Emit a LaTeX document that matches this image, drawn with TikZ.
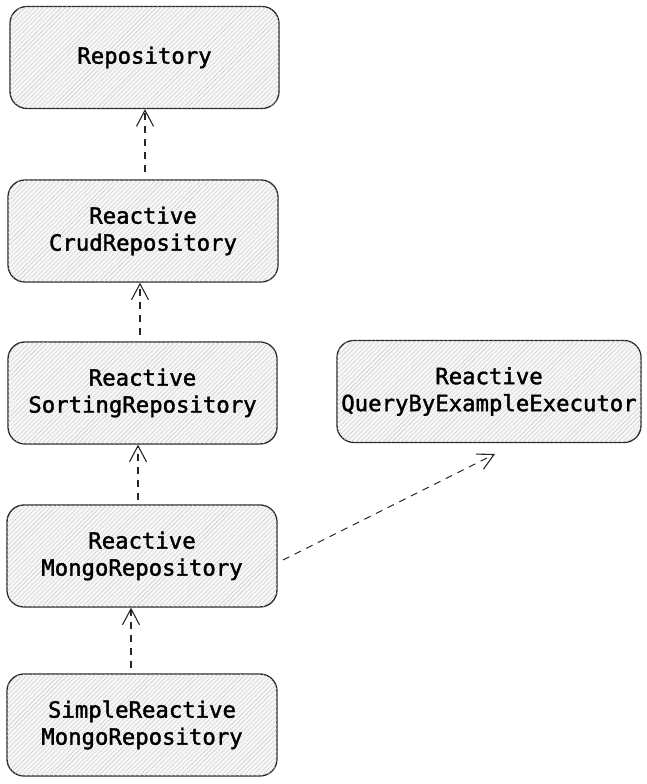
\documentclass[tikz,border=0pt]{standalone}
\usepackage{fontspec}
\newfontfamily\boxfont[FakeBold=1.6]{DejaVu Sans Mono}
\usetikzlibrary{arrows.meta,patterns.meta}
\begin{document}
\begin{tikzpicture}[x=1pt,y=1pt,
  box/.style={draw=black!85, line width=1.3pt, rounded corners=17pt,
    fill=black!3, postaction={pattern={Lines[angle=45,distance=3.2pt,line width=0.4pt]}, pattern color=black!22},
    minimum height=102pt, align=center,
    font=\boxfont\fontsize{22.3}{27}\selectfont},
  dep/.style={draw=black!85, line width=1.1pt, dash pattern=on 7pt off 6pt,
    -{Straight Barb[length=16pt,width=17pt,line width=1.1pt]}}
]
\useasboundingbox (0,0) rectangle (647,784);
\node[box, minimum width=269pt] (repo) at (144.5,726.5) {Repository};
\node[box, minimum width=270pt] (crud) at (143,553) {Reactive\\CrudRepository};
\node[box, minimum width=269pt] (sort) at (142.5,391) {Reactive\\SortingRepository};
\node[box, minimum width=304pt] (qbe) at (489,392.5) {Reactive\\QueryByExampleExecutor};
\node[box, minimum width=270pt] (mongo) at (142,228) {Reactive\\MongoRepository};
\node[box, minimum width=270pt] (simple) at (142,59) {SimpleReactive\\MongoRepository};
\coordinate (c1) at (145,612);
\coordinate (c2) at (140,449);
\coordinate (c3) at (138,284);
\coordinate (c4) at (131,116);
\coordinate (c5) at (283,224);
\coordinate (c6) at (495,330);
\draw[dep] (c1) -- (repo.south -| c1);
\draw[dep] (c2) -- (crud.south -| c2);
\draw[dep] (c3) -- (sort.south -| c3);
\draw[dep] (c4) -- (mongo.south -| c4);
\draw[dep] (c5) -- (c6);
\end{tikzpicture}
\end{document}
